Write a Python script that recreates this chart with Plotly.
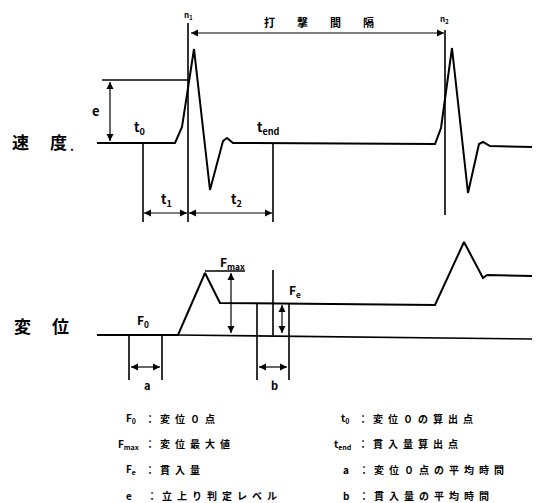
import plotly.graph_objects as go

# ---- data (diagram coordinates: x to the right, y downward) ----
vel_x = [97, 175, 182, 194, 210, 223, 227, 233, 435, 441, 452, 468, 479, 483, 490, 537]
vel_y = [143, 143, 127, 49, 190, 141, 138, 143, 144, 128, 48, 193, 144, 142, 146, 147]

disp_x = [97, 178, 205, 220, 435, 464, 483, 487, 537]
disp_y = [335, 335, 273, 303, 305, 242, 278, 275, 276]

base_x = [178, 537]
base_y = [335, 339]

# vertical marker lines: (x, y_top, y_bottom)
vlines = [(143, 143, 222), (188, 23, 222), (273, 143, 222), (445, 30, 215),
          (129, 335, 380), (162, 335, 380), (257, 303, 380), (289, 303, 380),
          (273, 270, 336)]
# horizontal level lines: (x0, x1, y)
hlines = [(102, 190, 80), (205, 245, 271)]
# double arrows: (x0, y0, x1, y1)
darrows = [(110, 82, 110, 141), (144, 213, 187, 213), (189, 213, 272, 213),
           (191, 33, 444, 33), (231, 273, 231, 333), (282, 305, 282, 333),
           (131, 367, 160, 367), (259, 367, 287, 367)]
# labels: (x, y, text, size)
labels = [(20, 141, "速", 17), (58, 141, "度", 17), (72, 145, ".", 12),
          (22, 325, "変", 17), (60, 325, "位", 17),
          (96, 110, "e", 13), (139, 127, "t<sub>0</sub>", 13),
          (268, 127, "t<sub>end</sub>", 13), (188, 15, "n<sub>1</sub>", 8),
          (444, 19, "n<sub>2</sub>", 8), (319, 22, "打　　撃　　間　　隔", 11),
          (166, 199, "t<sub>1</sub>", 13), (236, 199, "t<sub>2</sub>", 13),
          (143, 320, "F<sub>0</sub>", 12), (232, 262, "F<sub>max</sub>", 12),
          (295, 290, "F<sub>e</sub>", 12), (147, 385, "a", 11), (274, 385, "b", 11)]

legend_left_keys = ["F<sub>0</sub>", "F<sub>max</sub>", "F<sub>e</sub>", "e"]
legend_left_desc = ["：変位０点", "：変位最大値", "：貫入量", "：立上り判定レベル"]
legend_left_keyx = [138, 141, 138, 134]
legend_left_colon = [148, 148, 148, 150]
legend_right_keys = ["t<sub>0</sub>", "t<sub>end</sub>", "a", "b"]
legend_right_desc = ["：変位０の算出点", "：貫入量算出点", "：変位０点の平均時間", "：貫入量の平均時間"]
legend_right_keyx = [351, 353, 351, 351]
legend_right_colon = [361, 361, 362, 362]
legend_y = [418, 443.5, 469, 495]

FONT = "Noto Sans CJK JP"
OFF = 8  # page body margin compensation


def spaced(s):
    return "\u2002".join(s)


fig = go.Figure()
fig.add_trace(go.Scatter(x=vel_x, y=vel_y, mode="lines",
                         line=dict(color="black", width=2), hoverinfo="skip"))
fig.add_trace(go.Scatter(x=disp_x, y=disp_y, mode="lines",
                         line=dict(color="black", width=2), hoverinfo="skip"))
fig.add_trace(go.Scatter(x=base_x, y=base_y, mode="lines",
                         line=dict(color="black", width=1.6), hoverinfo="skip"))

for (x, y0, y1) in vlines:
    fig.add_shape(type="line", xref="x", yref="y", x0=x, x1=x, y0=y0, y1=y1,
                  line=dict(color="black", width=1.6))
for (x0, x1, y) in hlines:
    fig.add_shape(type="line", xref="x", yref="y", x0=x0, x1=x1, y0=y, y1=y,
                  line=dict(color="black", width=1.6))
for (x0, y0, x1, y1) in darrows:
    if y0 == y1:
        syms = ["arrow-left", "arrow-right"]
    else:
        syms = ["arrow-up", "arrow-down"]  # y axis reversed: y0 on top
    fig.add_trace(go.Scatter(x=[x0, x1], y=[y0, y1], mode="lines+markers",
                             line=dict(color="black", width=1.2),
                             marker=dict(symbol=syms, size=7, color="black"),
                             hoverinfo="skip"))


def txt(x, y, t, size, anchor="center"):
    fig.add_annotation(x=x, y=y, xref="x", yref="y", text=t, xanchor=anchor,
                       showarrow=False,
                       font=dict(family=FONT, size=size, color="black", weight="bold"))


for (x, y, t, s) in labels:
    txt(x, y, t, s)
for k, d, kx, cx, y in zip(legend_left_keys, legend_left_desc, legend_left_keyx,
                           legend_left_colon, legend_y):
    txt(kx, y, k, 10, "right")
    txt(cx - 5, y, spaced(d), 10, "left")
for k, d, kx, cx, y in zip(legend_right_keys, legend_right_desc, legend_right_keyx,
                           legend_right_colon, legend_y):
    txt(kx, y, k, 10, "right")
    txt(cx - 5, y, spaced(d), 10, "left")

fig.update_layout(width=540, height=503, margin=dict(l=0, r=0, t=0, b=0),
                  paper_bgcolor="white", plot_bgcolor="white", showlegend=False,
                  xaxis=dict(range=[OFF, 540 + OFF], visible=False, fixedrange=True),
                  yaxis=dict(range=[503 + OFF, OFF], visible=False, fixedrange=True))
fig.write_html("out.html")
